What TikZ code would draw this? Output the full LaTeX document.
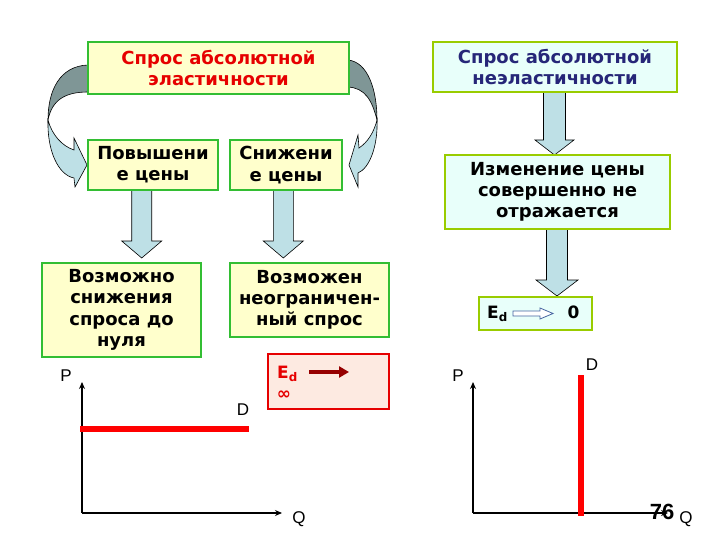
\documentclass[tikz,border=0pt]{standalone}
\usepackage{fontspec}
\setmainfont{DejaVu Sans}
\newfontfamily\arialfont{Liberation Sans}
\usetikzlibrary{arrows.meta,calc}
\definecolor{bgreen}{RGB}{51,190,51}
\definecolor{ygreen}{RGB}{153,204,0}
\definecolor{lyellow}{RGB}{255,255,204}
\definecolor{lcyan}{RGB}{232,255,250}
\definecolor{arrowblue}{RGB}{190,224,230}
\definecolor{darkteal}{RGB}{127,150,150}
\definecolor{tred}{RGB}{230,0,0}
\definecolor{navyt}{RGB}{38,38,120}
\definecolor{pinkfill}{RGB}{253,234,225}
\definecolor{darkredc}{RGB}{150,0,0}
\definecolor{outlineblue}{RGB}{70,100,160}
\newcommand\blockdown[6]{%
  \draw[blk] (#1-#5,#2) -- (#1-#5,#3) -- (#1-#6,#3) -- (#1,#4) -- (#1+#6,#3) -- (#1+#5,#3) -- (#1+#5,#2) -- cycle;}
\begin{document}
\begin{tikzpicture}[x=1pt,y=-1pt,
  txt/.style={inner sep=0pt, align=center, font=\fontsize{18}{21.3}\selectfont\bfseries},
  ybox/.style={txt, draw=bgreen, line width=2pt, fill=lyellow},
  cbox/.style={txt, draw=ygreen, line width=2pt, fill=lcyan},
  blk/.style={draw=black, line width=0.6pt, fill=arrowblue},
  axisline/.style={line width=1.8pt, -{Stealth[length=7pt,width=6pt]}},
  dline/.style={red, line width=5.5pt},
  lbl/.style={font=\arialfont\fontsize{17}{17}\selectfont, inner sep=0pt},
  curvdark/.style={fill=darkteal, draw=black, line width=0.6pt},
  curvlight/.style={fill=arrowblue, draw=black, line width=0.6pt}
]
\useasboundingbox (0,0) rectangle (720,540);

% curved arrows (drawn first, boxes on top)
\draw[curvdark] (92,65) -- (88,65) .. controls (60,66) and (48,90) .. (48,120)
  .. controls (52,100) and (65,92) .. (88,92) -- (92,92) -- cycle;
\draw[curvlight] (48,120) .. controls (47,150) and (58,175) .. (74,178) -- (75,187) -- (87,165)
  -- (74,138) -- (74,150) .. controls (62,146) and (52,135) .. (48,120) -- cycle;
\draw[curvdark] (344,60) -- (348,60) .. controls (368,62) and (377,90) .. (377,120)
  .. controls (372,100) and (365,88) .. (348,87) -- (344,87) -- cycle;
\draw[curvlight] (377,120) .. controls (378,145) and (370,168) .. (358,173) -- (358,187) -- (349,165)
  -- (358,135) -- (359,148) .. controls (368,142) and (374,132) .. (377,120) -- cycle;

% block arrows
\blockdown{141.7}{188}{241}{258}{10}{20}
\blockdown{283.3}{188}{241}{258}{10}{20}
\blockdown{554.5}{90}{140}{155}{11}{19.5}
\blockdown{557}{227}{280}{296}{10.5}{21}

% boxes
\node[ybox, minimum width=261, minimum height=52, text=tred] (t1) at (218.5,68)
  {Спрос абсолютной\\эластичности};
\node[cbox, minimum width=244, minimum height=50, text=navyt] (t2) at (555,67)
  {Спрос абсолютной\\неэластичности};
\node[ybox, minimum width=130, minimum height=50] (n1) at (153,165) {Повышени\\е цены};
\node[ybox, minimum width=112, minimum height=50] (n2) at (286,165) {Снижени\\е цены};
\node[cbox, minimum width=225, minimum height=74] (n3) at (557.5,192)
  {Изменение цены\\совершенно не\\отражается};
\node[ybox, minimum width=159, minimum height=94] (n4) at (121.5,310)
  {Возможно\\снижения\\спроса до\\нуля};
\node[ybox, minimum width=159, minimum height=74] (n5) at (309.5,300)
  {Возможен\\неограничен-\\ный спрос};
\node[draw=tred, line width=1.6pt, fill=pinkfill, minimum width=121, minimum height=55, inner sep=0pt] (e1) at (328.5,381.5) {};
\node[draw=ygreen, line width=2pt, fill=lcyan, minimum width=113, minimum height=33, inner sep=0pt] (e2) at (535.5,313.5) {};

% E_d -> infinity
\node[txt, text=tred, font=\fontsize{17}{17}\selectfont\bfseries, anchor=base west] (ed1) at (277,378) {E\textsubscript{d}};
\coordinate (ra1) at (309,372);
\coordinate (ra2) at (349,372);
\draw[darkredc, line width=4.5pt, -{Triangle[length=10pt,width=11pt]}] (ra1) -- (ra2);
\node[txt, text=tred, font=\fontsize{17}{17}\selectfont\bfseries] (inf) at (284,395) {∞};

% E_d -> 0
\node[txt, font=\fontsize{17}{17}\selectfont\bfseries, anchor=base west] (ed2) at (487,318) {E\textsubscript{d}};
\draw[draw=outlineblue, fill=white, line width=0.8pt] (513,311) -- (540,311) -- (540,308) -- (553,313.5)
  -- (540,319) -- (540,316) -- (513,316) -- cycle;
\node[txt, font=\fontsize{17}{17}\selectfont\bfseries, anchor=base] (zero) at (573.5,318) {0};

% left chart
\coordinate (o1) at (82,513);
\coordinate (py1) at (82,382);
\coordinate (qx1) at (282,513);
\draw[axisline] (o1) -- (py1);
\draw[axisline] (o1) -- (qx1);
\coordinate (h1) at (80,429);
\coordinate (h2) at (249,429);
\draw[dline] (h1) -- (h2);
\node[lbl] (P1) at (66,376) {P};
\node[lbl] (Q1) at (299,519) {Q};
\node[lbl] (D1) at (243,410) {D};

% right chart
\coordinate (o2) at (473,513);
\coordinate (py2) at (473,382);
\coordinate (qx2) at (668,513);
\draw[axisline] (o2) -- (py2);
\draw[axisline] (o2) -- (qx2);
\coordinate (v1) at (581,375);
\coordinate (v2) at (581,516);
\draw[dline, line width=6pt] (v1) -- (v2);
\node[lbl] (P2) at (458,376) {P};
\node[lbl] (Q2) at (686,519) {Q};
\node[lbl] (D2) at (592,365) {D};
\node[font=\arialfont\fontsize{22}{22}\selectfont\bfseries, inner sep=0pt] (num) at (662,512) {76};
\end{tikzpicture}
\end{document}
